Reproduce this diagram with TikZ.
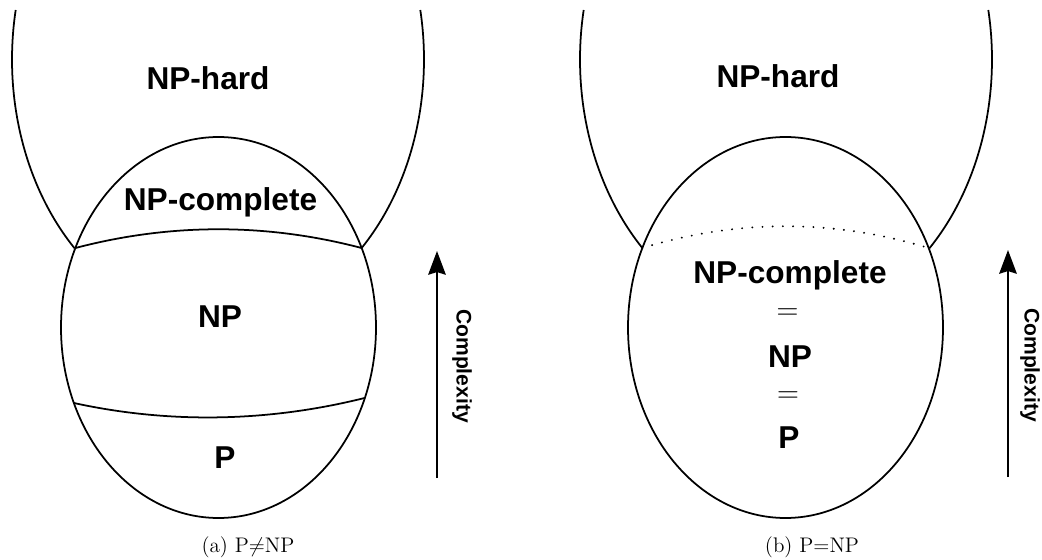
\documentclass[tikz,border=0pt]{standalone}
\usepackage{fontspec}
\setsansfont{Liberation Sans}
\usetikzlibrary{arrows.meta,positioning}
\tikzset{
	boundary/.style={
		line width=1pt,
		draw=black
	},
	merged/.style={
		line width=1.2pt,
		dash pattern=on 0pt off 5.8pt,
		line cap=round
	},
	classname/.style={
		font=\fontsize{18}{20}\selectfont\sffamily\bfseries,
		inner sep=0pt,
		anchor=base
	},
	equal/.style={
		font=\fontsize{16}{18}\selectfont,
		inner sep=0pt,
		anchor=base
	},
	axislabel/.style={
		font=\fontsize{12}{14}\selectfont\sffamily\bfseries,
		rotate=-90,
		inner sep=0pt
	},
	arrow/.style={
		line width=1pt,
		-{Stealth[length=13.5pt,width=10pt,inset=1.5pt]}
	},
	caption/.style={
		font=\fontsize{12}{14}\selectfont,
		inner sep=0pt,
		anchor=base
	},
}

\begin{document}
\begin{tikzpicture}[x=0.02cm,y=0.02cm]
\useasboundingbox (0,0) rectangle (1042,559);

% (a) P != NP
\coordinate (ctrA) at (218.5,231.5);
\coordinate (hardctrA) at (218,499.5);
\draw[boundary] (ctrA) ellipse [x radius=157.5, y radius=190.5];
\draw[boundary] (hardctrA) ++(169.15:206 and 263) arc[start angle=169.15, end angle=225.8, x radius=206, y radius=263];
\draw[boundary] (hardctrA) ++(-45.8:206 and 263) arc[start angle=-45.8, end angle=10.85, x radius=206, y radius=263];
\path (ctrA) ++(155.34:157.5 and 190.5) coordinate (jlA);
\path (ctrA) ++(24.66:157.5 and 190.5) coordinate (jrA);
\path (ctrA) ++(203.35:157.5 and 190.5) coordinate (plA);
\path (ctrA) ++(-21.7:157.5 and 190.5) coordinate (prA);
\draw[boundary] (jlA) .. controls +(95,25) and +(-95,25) .. (jrA);
\draw[boundary] (plA) .. controls +(96,-21) and +(-96,-24) .. (prA);

\node[classname] (hardA) at (208,470) {NP-hard};
\node[classname] (compA) at (220.5,349) {NP-complete};
\node[classname] (npA) at (220,232) {NP};
\node[classname] (pA) at (225,91) {P};

\coordinate (lowA) at (437,81);
\coordinate (highA) at (437,308);
\draw[arrow] (lowA) -- (highA);
\node[axislabel] (cxA) at (462,193) {Complexity};
\node[caption] (capA) at (248,7) {(a) P$\neq$NP};

% (b) P = NP
\coordinate (ctrB) at (785.5,231.5);
\coordinate (hardctrB) at (786,499.5);
\draw[boundary] (ctrB) ellipse [x radius=157.5, y radius=190.5];
\draw[boundary] (hardctrB) ++(169.15:206 and 263) arc[start angle=169.15, end angle=225.8, x radius=206, y radius=263];
\draw[boundary] (hardctrB) ++(-45.8:206 and 263) arc[start angle=-45.8, end angle=10.85, x radius=206, y radius=263];
\path (ctrB) ++(155.34:157.5 and 190.5) coordinate (jlB);
\path (ctrB) ++(24.66:157.5 and 190.5) coordinate (jrB);
\draw[merged] (jlB) .. controls +(95,29) and +(-95,29) .. (jrB);

\node[classname] (hardB) at (778,472) {NP-hard};
\node[classname] (compB) at (790,276) {NP-complete};
\node[equal] (eqoneB) at (787.5,240) {$=$};
\node[classname] (npB) at (790,192) {NP};
\node[equal] (eqtwoB) at (788,157) {$=$};
\node[classname] (pB) at (789,111) {P};

\coordinate (lowB) at (1008,82);
\coordinate (highB) at (1008,309);
\draw[arrow] (lowB) -- (highB);
\node[axislabel] (cxB) at (1030,194) {Complexity};
\node[caption] (capB) at (812,7) {(b) P$=$NP};
\end{tikzpicture}
\end{document}
